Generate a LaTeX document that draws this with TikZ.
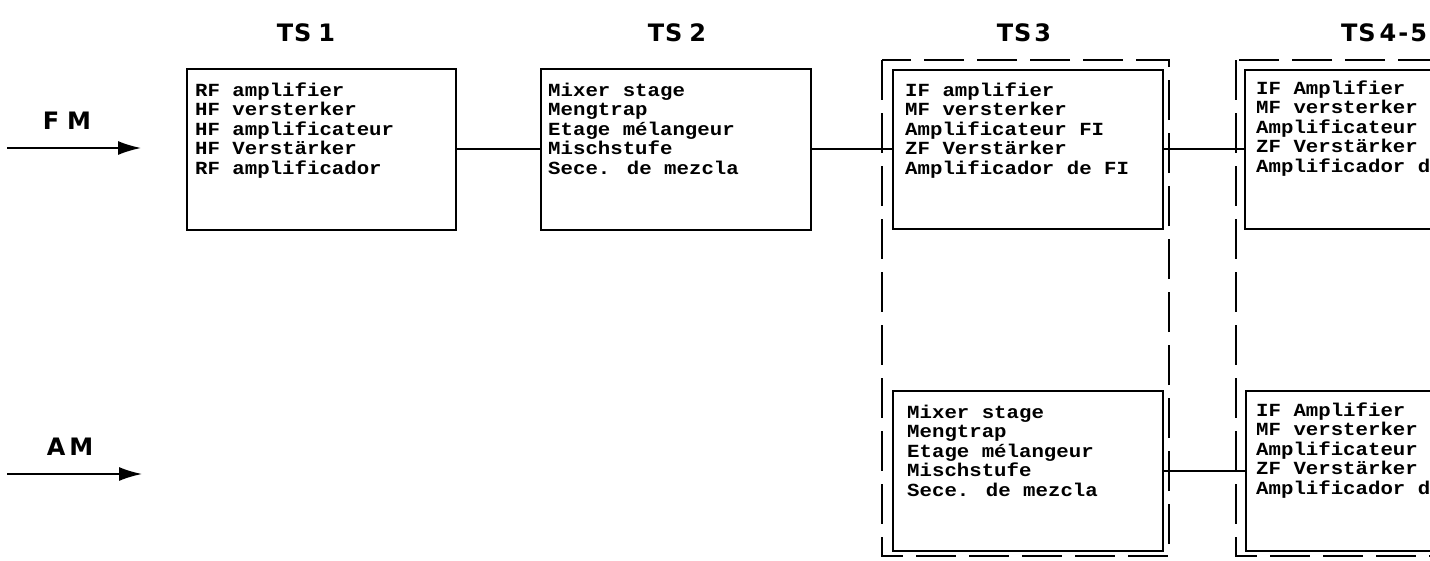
\documentclass[tikz,border=0pt]{standalone}
\usepackage{fontspec}
\setmainfont{Liberation Sans}
\newfontfamily\monofnt{Liberation Mono}[FakeStretch=1.12]
\newfontfamily\titlefnt{DejaVu Sans}
\usetikzlibrary{arrows.meta}
\tikzset{
  blk/.style={draw, line width=1.6pt, inner sep=0pt, anchor=north west},
  lines/.style={anchor=base west, inner sep=0pt, font=\monofnt\bfseries\fontsize{18.5}{19.5}\selectfont},
  frame/.style={draw, line width=1.6pt, dash pattern=on 40pt off 13pt},
  title/.style={font=\titlefnt\bfseries\fontsize{24}{24}\selectfont, inner sep=0pt},
  conn/.style={line width=1.8pt},
  sig/.style={line width=1.6pt, -{Latex[length=23pt,width=14pt]}}
}
\begin{document}
\begin{tikzpicture}[x=1pt,y=-1pt]
\useasboundingbox (0,0) rectangle (1430,560);
\begin{scope}
\clip (0,0) rectangle (1430,560);
% titles
\node[title] (h1) at (306,33) {T\kern1pt S\kern7pt 1};
\node[title] (h2) at (677,33) {T\kern1pt S\kern7pt 2};
\node[title] (h3) at (1024,33) {T\kern1pt S\kern3pt 3};
\node[title] (h4) at (1384,33) {T\kern1pt S\kern4pt 4\kern2pt -\kern2pt 5};
% inputs
\node[title] (fm) at (67,121) {F\kern8pt M};
\node[title] (am) at (70,447) {A\kern4pt M};
\coordinate (fma) at (7,148);
\coordinate (fmb) at (141,148);
\coordinate (ama) at (7,474);
\coordinate (amb) at (142,474);
\draw[sig] (fma) -- (fmb);
\draw[sig] (ama) -- (amb);
% dashed frames
\draw[frame] (882,60) rectangle (1169,556);
\draw[frame] (1236,60) rectangle (1530,556);
% boxes
\node[blk, minimum width=269pt, minimum height=161pt] (ts1) at (186,68) {};
\node[blk, minimum width=270pt, minimum height=161pt] (ts2) at (540,68) {};
\node[blk, minimum width=270pt, minimum height=159pt] (ts3a) at (892,69) {};
\node[blk, minimum width=270pt, minimum height=160pt] (ts3b) at (892,390) {};
\node[blk, minimum width=300pt, minimum height=159pt] (ts45a) at (1244,69) {};
\node[blk, minimum width=300pt, minimum height=160pt] (ts45b) at (1245,390) {};
% texts
\node[lines] (t1) at (195,96) {\begin{tabular}[t]{@{}l@{}}RF amplifier\\HF versterker\\HF amplificateur\\HF Verstärker\\RF amplificador\end{tabular}};
\node[lines] (t2) at (548,96) {\begin{tabular}[t]{@{}l@{}}Mixer stage\\Mengtrap\\Etage mélangeur\\Mischstufe\\Sece. de mezcla\end{tabular}};
\node[lines] (t3a) at (905,96) {\begin{tabular}[t]{@{}l@{}}IF amplifier\\MF versterker\\Amplificateur FI\\ZF Verstärker\\Amplificador de FI\end{tabular}};
\node[lines] (t3b) at (907,418) {\begin{tabular}[t]{@{}l@{}}Mixer stage\\Mengtrap\\Etage mélangeur\\Mischstufe\\Sece. de mezcla\end{tabular}};
\node[lines] (t45a) at (1256,94) {\begin{tabular}[t]{@{}l@{}}IF Amplifier\\MF versterker\\Amplificateur FI\\ZF Verstärker\\Amplificador de FI\end{tabular}};
\node[lines] (t45b) at (1256,416) {\begin{tabular}[t]{@{}l@{}}IF Amplifier\\MF versterker\\Amplificateur\\ZF Verstärker\\Amplificador de FI\end{tabular}};
% connectors
\draw[conn] (ts1.east) -- (ts2.west);
\draw[conn] (ts2.east) -- (ts3a.west);
\draw[conn] (ts3a.east) -- (ts45a.west);
\draw[conn] (ts3b.east) -- (ts45b.west);
\end{scope}
\end{tikzpicture}
\end{document}
